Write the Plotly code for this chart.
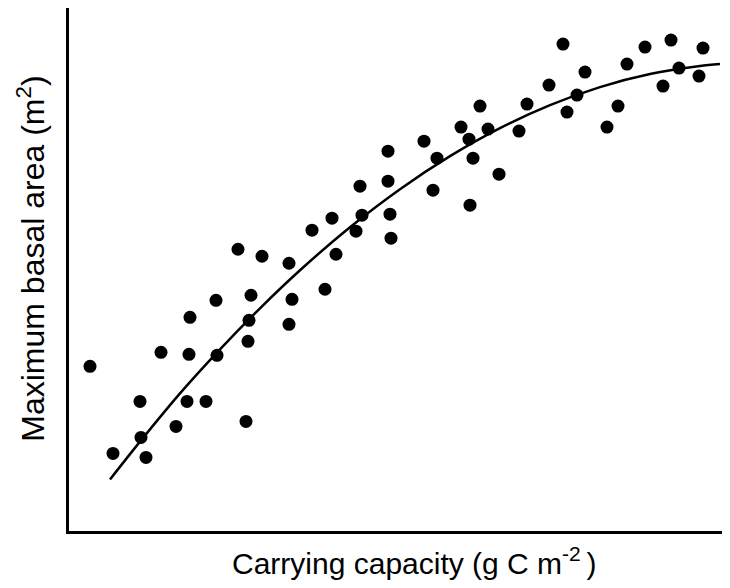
import plotly.graph_objects as go

cap_x = [23, 46, 73, 74, 79, 94, 109, 120, 122, 123, 139, 149, 150, 171, 179, 181, 182, 184,
         195, 222, 222, 225, 245, 258, 265, 269, 289, 293, 295, 321, 321, 323, 324, 357, 366,
         370, 394, 402, 403, 406, 413, 421, 432, 452, 460, 482, 496, 500, 510, 518, 540, 551,
         560, 578, 596, 604, 612, 632, 636]
area_y = [165, 78, 130, 94, 74, 179, 105, 130, 177, 214, 130, 231, 176, 282, 110, 190, 211,
          236, 275, 268, 207, 232, 301, 242, 313, 277, 300, 345, 316, 380, 350, 317, 293, 390,
          341, 373, 404, 392, 326, 373, 425, 402, 357, 400, 427, 446, 487, 419, 436, 459, 404,
          425, 467, 484, 445, 491, 463, 455, 483]

# Fitted curve
fit_x = [43, 74, 113, 153, 193, 233, 283, 333, 383, 433, 483, 533, 583, 633, 653]
fit_y = [52, 91, 138, 182, 223, 261, 304, 342, 375, 403, 426, 444, 457, 465, 467]

fig = go.Figure()
fig.add_trace(go.Scatter(
    x=fit_x, y=fit_y, mode="lines",
    line=dict(color="black", width=2.5, shape="spline", smoothing=0.8),
    hoverinfo="skip", showlegend=False))
fig.add_trace(go.Scatter(
    x=cap_x, y=area_y, mode="markers",
    marker=dict(color="black", size=13, line=dict(width=0)),
    showlegend=False))

font = "Liberation Sans, Arial, sans-serif"
fig.update_layout(
    width=722, height=580,
    margin=dict(l=61, r=0, t=0, b=57),
    paper_bgcolor="white", plot_bgcolor="white",
    font=dict(family=font, color="black"),
    xaxis=dict(range=[2, 663], showline=True, linewidth=3, linecolor="black",
               showgrid=False, zeroline=False, showticklabels=False, ticks=""),
    yaxis=dict(range=[0.5, 523], showline=True, linewidth=3, linecolor="black",
               showgrid=False, zeroline=False, showticklabels=False, ticks=""),
    annotations=[
        dict(text="Carrying capacity (g C m<sup>-2 </sup>)", xref="paper", yref="paper",
             x=0.522, y=-0.057, xanchor="center", yanchor="middle", showarrow=False,
             font=dict(size=30, family=font, color="black")),
        dict(text="Maximum basal area (m<sup>2</sup>)", xref="paper", yref="paper",
             x=-0.058, y=0.52, xanchor="center", yanchor="middle", showarrow=False,
             textangle=-90, font=dict(size=32, family=font, color="black")),
    ],
)
fig.write_html("out.html")
